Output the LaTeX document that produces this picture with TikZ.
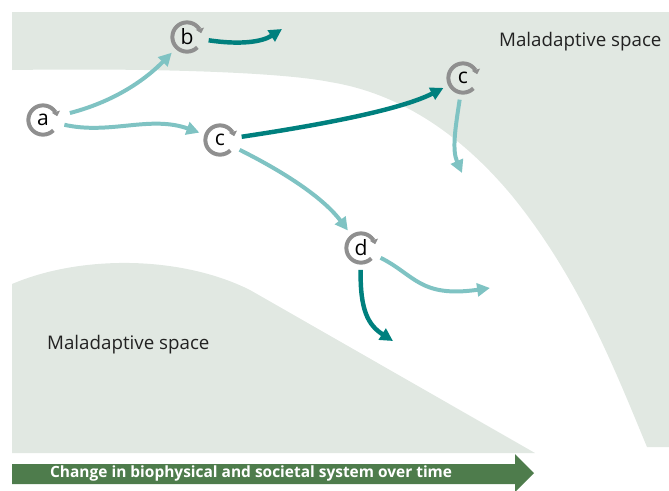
\documentclass[tikz,border=0pt]{standalone}
\usepackage{fontspec}
\setmainfont{Open Sans}
\usetikzlibrary{arrows.meta}

\definecolor{spacegray}{HTML}{E1E8E2}
\definecolor{lightteal}{HTML}{7FC3C3}
\definecolor{darkteal}{HTML}{00807E}
\definecolor{ringgray}{HTML}{8F8F8F}
\definecolor{timegreen}{HTML}{4E7C4C}
\definecolor{labelgray}{HTML}{222222}

\tikzset{
  stage/.style={circle, minimum size=37pt, inner sep=0pt, font=\fontsize{18}{18}\selectfont},
  ring/.style={ringgray, line width=3.4pt, -{Triangle[length=4pt,width=7pt]}},
  pathlight/.style={lightteal, line width=3.4pt, -{Triangle[length=11pt,width=11pt]}},
  pathdark/.style={darkteal, line width=3.8pt, -{Triangle[length=11pt,width=11pt]}},
  spacelabel/.style={labelgray, anchor=west, font=\fontsize{16}{16}\selectfont},
}

% Gray turning ring round a stage node
\newcommand{\ringat}[1]{%
  \draw[ring] ([shift={(-45:12.5pt)}]#1.center) arc[start angle=-45, end angle=-345, radius=12.5pt];}

\begin{document}
\begin{tikzpicture}[x=0.03cm, y=-0.03cm]

\useasboundingbox (0,0) rectangle (669,490);

% Maladaptive space, top and right
\fill[spacegray] (12,12) -- (669,12) -- (669,447) -- (647,447)
  .. controls (615,370) and (580,280) .. (513,197)
  .. controls (470,145) and (410,95) .. (330,82)
  .. controls (280,72) and (150,68) .. (12,70) -- cycle;

% Maladaptive space, bottom left
\fill[spacegray] (12,453) -- (12,284) .. controls (80,255) and (180,255) .. (250,290)
  -- (535,453) -- cycle;

% Time arrow
\fill[timegreen] (12,464) -- (515,464) -- (515,454) -- (534,473) -- (515,492)
  -- (515,484) -- (12,484) -- cycle;
\node[white, anchor=west, font=\bfseries\fontsize{13.2}{13.2}\selectfont] (time) at (46,473)
  {Change in biophysical and societal system over time};

% Labels
\node[spacelabel] (top) at (495,42) {Maladaptive space};
\node[spacelabel] (bottom) at (43,345) {Maladaptive space};

% Stages
\node[stage] (a) at (43,120) {a};
\node[stage] (b) at (187,37) {b};
\node[stage] (c1) at (220,140) {c};
\node[stage] (c2) at (463,78) {c};
\node[stage] (d) at (361,248) {d};
\foreach \s in {a,b,c1,c2,d} {\ringat{\s}}

% Free ends
\coordinate (b1) at (282,29);
\coordinate (c3) at (462,173);
\coordinate (d1) at (490,288);
\coordinate (d2) at (393,341);

% Pathways
\draw[pathlight, shorten <=5pt] (a) .. controls (120,100) and (150,75) .. (b);
\draw[pathlight] (a) .. controls (110,135) and (150,115) .. (c1);
\draw[pathdark] (b) .. controls (240,45) and (262,42) .. (b1);
\draw[pathdark] (c1) .. controls (320,125) and (400,110) .. (c2);
\draw[pathlight] (c1) .. controls (290,175) and (325,200) .. (d);
\draw[pathlight] (c2) .. controls (455,130) and (452,150) .. (c3);
\draw[pathlight] (d) .. controls (415,275) and (420,298) .. (d1);
\draw[pathdark] (d) .. controls (360,310) and (368,325) .. (d2);

\end{tikzpicture}
\end{document}
